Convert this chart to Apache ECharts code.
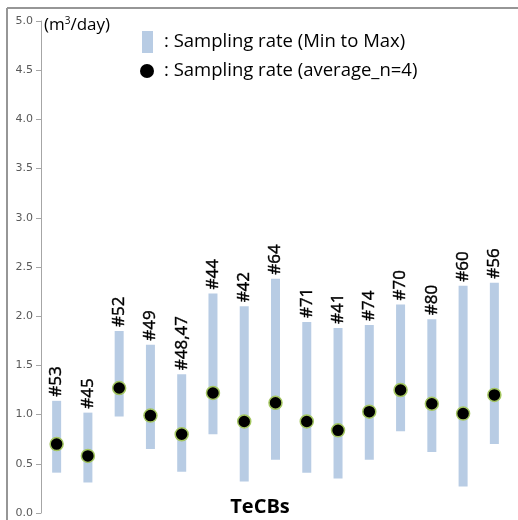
<!DOCTYPE html>
<html>
<head>
<meta charset="utf-8">
<script src="https://cdn.jsdelivr.net/npm/echarts@6/dist/echarts.min.js"></script>
<style>html,body{margin:0;padding:0;background:#fff;}#c{width:518px;height:520px;}</style>
</head>
<body>
<div id="c"></div>
<script>
const categories = ['#53','#45','#52','#49','#48,47','#44','#42','#64','#71','#41','#74','#70','#80','#60','#56'];
const minValues = [0.41,0.31,0.98,0.65,0.42,0.80,0.32,0.54,0.41,0.35,0.54,0.83,0.62,0.27,0.70];
const maxValues = [1.14,1.02,1.85,1.71,1.41,2.23,2.10,2.38,1.94,1.88,1.91,2.12,1.97,2.31,2.34];
const avgValues = [0.70,0.58,1.27,0.99,0.80,1.22,0.93,1.12,0.93,0.84,1.03,1.25,1.11,1.01,1.20];
const yMin = 0, yMax = 5, yStep = 0.5;
const unitLabel = '(m{sup|3}/day)';
const legendRange = ': Sampling rate (Min to Max)';
const legendAvg = ': Sampling rate (average_n=4)';
const xTitle = 'TeCBs';

const font = '"Open Sans", "Noto Sans", sans-serif';
const chart = echarts.init(document.getElementById('c'), null, {renderer: 'canvas'});
const rangeData = categories.map((c, i) => [i, minValues[i], maxValues[i]]);
const avgData = categories.map((c, i) => [i, avgValues[i]]);

chart.setOption({
  animation: false,
  backgroundColor: '#fff',
  grid: {left: 41, right: 8, top: 21, bottom: 7, containLabel: false},
  xAxis: {
    type: 'category', data: categories, boundaryGap: true,
    axisLine: {show: false}, axisTick: {show: false}, axisLabel: {show: false}, splitLine: {show: false}
  },
  yAxis: {
    type: 'value', min: yMin, max: yMax, interval: yStep,
    axisLine: {show: true, lineStyle: {color: '#a6a6a6', width: 1}},
    axisTick: {show: true, length: 5, lineStyle: {color: '#a6a6a6'}},
    axisLabel: {color: '#595959', fontSize: 11, fontFamily: '"DejaVu Sans", sans-serif', margin: 8,
      formatter: v => v.toFixed(1)},
    splitLine: {show: false}
  },
  graphic: [
    {type: 'line', shape: {x1: 7, y1: 8, x2: 518, y2: 8}, style: {stroke: '#969696', lineWidth: 2}, z: 100},
    {type: 'line', shape: {x1: 7, y1: 8, x2: 7, y2: 520}, style: {stroke: '#969696', lineWidth: 2}, z: 100},
    {type: 'text', left: 44, top: 16, style: {text: unitLabel, fill: '#000', font: '17px ' + font,
      rich: {sup: {fontSize: 10, verticalAlign: 'top', padding: [0,0,8,0], fontFamily: 'Open Sans'}}}},
    {type: 'rect', shape: {x: 142, y: 31, width: 11, height: 22}, style: {fill: '#b8cce4'}},
    {type: 'text', x: 164, y: 42, style: {text: legendRange, fill: '#000', font: '18.5px ' + font, verticalAlign: 'middle'}},
    {type: 'circle', shape: {cx: 147, cy: 71, r: 7}, style: {fill: '#000'}},
    {type: 'text', x: 164, y: 71, style: {text: legendAvg, fill: '#000', font: '18.5px ' + font, verticalAlign: 'middle'}},
    {type: 'text', x: 260, y: 507, style: {text: xTitle, fill: '#000', font: 'bold 20px ' + font, align: 'center', verticalAlign: 'middle'}}
  ],
  series: [
    {
      type: 'custom', data: rangeData, z: 2,
      renderItem: function (params, api) {
        const idx = api.value(0);
        const lo = api.coord([idx, api.value(1)]);
        const hi = api.coord([idx, api.value(2)]);
        return {
          type: 'group',
          children: [
            {type: 'rect', shape: {x: hi[0] - 4.5, y: hi[1], width: 9, height: lo[1] - hi[1]}, style: {fill: '#b8cce4'}},
            {type: 'text', x: hi[0], y: hi[1] - 4, rotation: Math.PI / 2,
              style: {text: categories[idx], fill: '#000', font: '17px ' + font, align: 'left', verticalAlign: 'middle',
                stroke: '#000', lineWidth: 0.4}}
          ]
        };
      }
    },
    {
      type: 'scatter', data: avgData, z: 5, symbol: 'circle', symbolSize: 13,
      itemStyle: {color: '#000', borderColor: '#a4c660', borderWidth: 1.5, opacity: 1}
    }
  ]
});
</script>
</body>
</html>
